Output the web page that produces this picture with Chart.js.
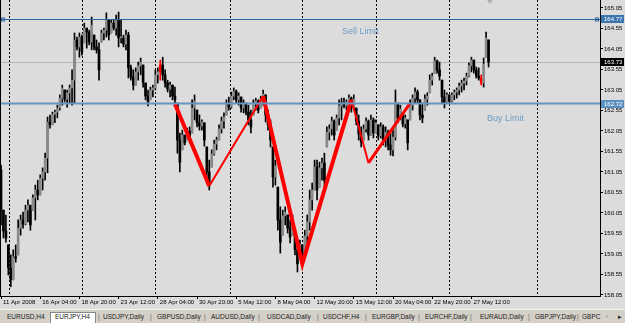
<!DOCTYPE html>
<html>
<head>
<meta charset="utf-8">
<script src="https://cdn.jsdelivr.net/npm/chart.js@4/dist/chart.umd.min.js"></script>
<style>
  html, body { margin: 0; padding: 0; background: #dcdcdc; overflow: hidden; }
  #chartBox { width: 625px; height: 309px; }
  #tabs { position: relative; width: 625px; height: 14px; background: #d4d0c8; border-top: 1px solid #f4f4f4; box-sizing: border-box;
          font: 6.5px "Liberation Sans", Arial, sans-serif; color: #222; }
  #tabs span { position: absolute; top: 3px; white-space: nowrap; }
  #tabs .active { top: 2px; height: 12px; background: #fff; border: 1px solid #888; border-bottom: none; box-sizing: border-box; }
  #tabs .sep { color: #666; }
</style>
</head>
<body>
<div id="chartBox"><canvas id="chart" width="625" height="309"></canvas></div>
<div id="tabs"></div>
<script>
// EURJPY H4 - bars
// =====================================================

const barHigh = [
  161.22,160.12,160.00,159.27,159.03,159.15,159.27,159.88,160.00,160.07,
  160.24,160.37,160.24,160.49,160.73,160.85,160.98,161.15,161.51,162.39,
  162.44,162.51,162.56,162.68,162.93,163.17,163.05,163.05,163.17,163.54,
  164.44,164.34,164.44,164.39,164.68,164.56,164.51,164.83,164.39,164.27,
  164.20,164.51,164.56,164.93,164.76,164.76,164.76,164.88,164.95,164.76,
  164.39,164.51,164.46,163.66,163.54,163.59,163.73,163.83,163.66,163.22,
  163.05,163.12,163.17,163.54,163.59,163.78,163.85,163.54,163.29,163.24,
  163.17,163.12,162.73,162.00,162.07,161.95,162.12,162.15,162.81,162.93,
  162.56,162.44,162.32,162.25,161.66,161.34,161.59,161.83,161.90,162.20,
  162.39,162.49,162.81,162.88,163.00,163.10,163.05,162.98,162.88,162.81,
  162.73,162.68,162.56,162.81,162.85,162.81,162.90,163.05,162.93,162.56,
  162.32,161.66,161.34,160.68,160.20,160.12,160.20,160.00,159.88,160.00,
  159.56,159.39,159.39,159.27,159.63,160.00,160.61,160.78,161.34,161.34,
  161.29,161.39,161.51,162.15,162.20,162.39,162.32,162.44,162.81,162.85,
  162.85,162.81,162.93,162.88,162.93,162.61,162.44,162.15,162.20,162.37,
  162.32,162.44,162.37,162.32,162.20,162.25,162.20,162.15,162.07,162.00,
  162.07,163.05,162.73,162.68,162.49,162.44,162.32,162.81,162.93,163.10,
  163.05,162.81,162.73,162.93,162.98,163.42,163.46,163.85,163.78,163.73,
  163.29,163.05,162.98,162.93,162.98,163.05,163.10,163.22,163.29,163.34,
  163.46,163.71,163.85,163.78,163.61,163.59,163.42,163.83,164.46,164.27
];

const barLow = [
  159.76,159.44,159.34,158.54,158.25,158.42,158.85,159.03,159.51,159.68,
  159.76,159.83,159.63,160.12,159.88,160.37,160.49,160.61,160.85,161.03,
  162.12,162.20,162.25,162.37,162.56,162.68,162.76,162.63,162.73,162.68,
  162.73,164.03,163.85,163.90,164.20,164.07,164.15,164.03,164.03,163.95,
  163.29,164.22,164.27,164.34,164.27,164.44,164.51,164.39,164.10,164.20,
  164.10,164.03,163.34,163.29,163.05,163.17,163.29,163.42,163.12,162.81,
  162.66,162.81,162.88,163.05,163.22,163.29,163.29,163.12,163.00,162.88,
  162.81,162.73,161.51,161.05,161.59,161.71,161.83,161.76,162.00,162.32,
  162.15,162.07,162.07,161.68,160.85,160.61,161.17,161.46,161.59,161.83,
  162.00,162.12,162.44,162.56,162.61,162.81,162.73,162.68,162.51,162.49,
  162.44,162.20,162.00,162.44,162.56,162.49,162.61,162.68,162.27,162.07,
  161.66,160.68,160.73,159.63,159.07,159.51,159.76,159.56,159.32,159.51,
  159.03,158.61,158.95,158.83,159.07,159.27,159.63,160.12,160.61,160.37,
  160.68,160.85,160.61,161.66,161.83,161.95,161.83,162.07,162.20,162.32,
  162.61,162.56,162.61,162.51,162.56,162.20,161.83,161.66,161.83,162.02,
  161.83,161.95,161.88,162.00,161.83,161.88,161.71,161.66,161.59,161.46,
  161.44,161.83,162.25,162.32,162.15,162.12,161.59,162.32,162.56,162.73,
  162.73,162.32,162.25,162.56,162.68,162.98,163.17,163.46,163.46,163.29,
  162.73,162.61,162.73,162.73,162.76,162.81,162.85,162.93,163.00,163.05,
  163.17,163.37,163.49,163.46,163.34,163.29,163.17,163.12,163.85,163.61
];

const barClose = [
  160.12,159.61,159.44,158.71,158.42,158.98,158.95,159.68,159.88,159.78,
  160.12,160.24,159.76,160.42,160.61,160.49,160.90,161.05,161.39,162.27,
  162.20,162.46,162.51,162.61,162.85,163.10,162.83,162.98,163.10,163.29,
  164.27,164.10,164.34,163.98,164.56,164.46,164.22,164.63,164.10,164.03,
  163.54,164.44,164.51,164.78,164.39,164.68,164.56,164.76,164.32,164.32,
  164.17,164.39,163.59,163.37,163.17,163.49,163.64,163.73,163.24,162.90,
  162.76,163.05,163.10,163.42,163.49,163.66,163.42,163.22,163.07,163.17,
  162.90,162.81,161.83,161.29,161.95,161.76,162.05,161.85,162.61,162.78,
  162.25,162.17,162.27,161.83,161.05,160.78,161.49,161.73,161.83,162.10,
  162.29,162.39,162.71,162.64,162.90,163.02,162.81,162.90,162.61,162.73,
  162.51,162.32,162.15,162.71,162.78,162.56,162.83,162.95,162.44,162.20,
  161.83,160.93,161.20,159.88,159.34,159.98,160.07,159.68,159.46,159.88,
  159.15,158.81,159.27,158.95,159.49,159.83,160.37,160.61,161.17,160.61,
  161.15,161.27,160.85,162.02,162.10,162.29,161.95,162.37,162.66,162.73,
  162.66,162.76,162.85,162.61,162.83,162.29,161.98,161.78,162.10,162.29,
  161.95,162.32,162.00,162.25,161.93,162.15,161.83,162.02,161.71,161.59,
  161.90,162.76,162.37,162.59,162.22,162.37,161.76,162.68,162.85,163.00,
  162.81,162.44,162.37,162.83,162.90,163.29,163.39,163.76,163.54,163.39,
  162.88,162.71,162.93,162.78,162.93,163.00,163.05,163.15,163.22,163.27,
  163.39,163.64,163.78,163.54,163.39,163.34,163.22,163.68,164.32,163.73
];
const firstOpen = 161.10;

// bars marked red on the chart
const redBars = [65, 196];

// ZigZag (bar index, price) and line width of each leg
const zigBars = [71, 85, 107, 123, 143, 150, 167];
const zigPrices = [162.71, 160.71, 162.90, 158.81, 162.81, 161.27, 162.73];
const zigWidths = [4, 2, 4, 4, 2, 3];

// Price axis and x axis
const yTicks = [165.05, 164.55, 164.05, 163.55, 163.05, 162.55, 162.05, 161.55,
                161.05, 160.55, 160.05, 159.55, 159.05, 158.55, 158.05];
const xTickBars = [0, 16, 32, 48, 64, 80, 96, 112, 128, 144, 160, 176, 192];
const xTickLabels = ['11 Apr 2008', '16 Apr 04:00', '18 Apr 20:00', '23 Apr 12:00', '28 Apr 04:00',
  '30 Apr 20:00', '5 May 12:00', '8 May 04:00', '12 May 20:00', '15 May 12:00',
  '20 May 04:00', '22 May 20:00', '27 May 12:00'];
const gridBars = [3.3, 33.2, 63, 93.5, 122.8, 153, 182.9, 218.8];

// Order levels
const sellLimit = 164.77;
const buyLimit = 162.72;
const bidPrice = 163.73;

const tabNames = ['EURUSD,H4', 'EURJPY,H4', 'USDJPY,Daily', 'GBPUSD,Daily', 'AUDUSD,Daily', 'USDCAD,Daily',
  'USDCHF,H4', 'EURGBP,Daily', 'EURCHF,Daily', 'EURAUD,Daily', 'GBPJPY,Daily', 'GBPC'];

// Build tab strip
const tabX = [7, 55, 103, 157, 211, 267, 323, 372, 425, 480, 535, 582];
const sepX = [98, 150, 204, 258, 317, 365, 418, 470, 528, 577];
const tabsEl = document.getElementById('tabs');
let tabHtml = '<span class="active" style="left:50px;width:46px;"></span>';
tabHtml += tabNames.map((t, i) => `<span style="left:${tabX[i]}px">${t}</span>`).join('');
tabHtml += sepX.map(x => `<span class="sep" style="left:${x}px">|</span>`).join('');
tabHtml += '<span style="left:606px;color:#888">&#8249;</span><span style="left:618px">&#9656;</span>';
tabsEl.innerHTML = tabHtml;

// Datasets
const opens = barClose.map((c, i) => i === 0 ? firstOpen : barClose[i - 1]);
const wicks = barHigh.map((h, i) => ({ x: i, y: [barLow[i], h] }));
const bodies = barClose.map((c, i) => {
  const o = Math.min(Math.max(opens[i], barLow[i]), barHigh[i]);
  return { x: i, y: [o, c] };
});
const bodyColors = barClose.map((c, i) => redBars.includes(i) ? '#ff0000' : (c >= opens[i] ? '#8a8a8a' : '#000000'));
const wickColors = barClose.map((c, i) => redBars.includes(i) ? '#ff0000' : '#000000');
const zigData = zigBars.map((b, i) => ({ x: b, y: zigPrices[i] }));

const FONT = '"Liberation Sans", Arial, sans-serif';

// no extra room for tick labels: plot area fills the frame
function noPadding(s) {
  s.paddingLeft = 0; s.paddingRight = 0; s.paddingTop = 0; s.paddingBottom = 0;
}

const overlay = {
  id: 'mtOverlay',
  beforeDatasetsDraw(chart) {
    const { ctx, chartArea: a, scales: { x, y } } = chart;
    ctx.save();
    // dotted period separators
    ctx.strokeStyle = '#000';
    ctx.lineWidth = 1;
    ctx.setLineDash([2, 2]);
    gridBars.forEach(b => {
      const px = Math.round(x.getPixelForValue(b)) + 0.5;
      ctx.beginPath(); ctx.moveTo(px, a.top); ctx.lineTo(px, a.bottom); ctx.stroke();
    });
    ctx.setLineDash([]);
    // bid line
    const by = Math.round(y.getPixelForValue(bidPrice)) + 0.5;
    ctx.strokeStyle = '#b4b4b4';
    ctx.beginPath(); ctx.moveTo(a.left, by); ctx.lineTo(a.right, by); ctx.stroke();
    ctx.restore();
  },
  afterDatasetsDraw(chart) {
    const { ctx, chartArea: a, scales: { x, y } } = chart;
    ctx.save();
    // sell limit
    const sy = Math.round(y.getPixelForValue(sellLimit)) + 0.5;
    ctx.strokeStyle = '#2a62a0';
    ctx.lineWidth = 1;
    ctx.beginPath(); ctx.moveTo(a.left, sy); ctx.lineTo(a.right, sy); ctx.stroke();
    ctx.strokeRect(1.5, sy - 1.5, 3, 3);
    ctx.strokeRect(a.right - 4.5, sy - 1.5, 3, 3);
    // buy limit
    const yb = y.getPixelForValue(buyLimit);
    ctx.strokeStyle = '#6593c2';
    ctx.lineWidth = 2;
    ctx.beginPath(); ctx.moveTo(a.left, yb); ctx.lineTo(a.right, yb); ctx.stroke();
    // descriptions
    ctx.fillStyle = '#6f9bc6';
    ctx.font = '9px ' + FONT;
    ctx.textBaseline = 'alphabetic';
    ctx.fillText('Sell Limit', 342, sy + 14);
    ctx.fillText('Buy Limit', 487, yb + 17);
    // chart shift marker
    ctx.fillStyle = '#b0b0b0';
    ctx.beginPath(); ctx.moveTo(487, 0); ctx.lineTo(493, 0); ctx.lineTo(490, 4); ctx.closePath(); ctx.fill();
    ctx.restore();
  },
  afterDraw(chart) {
    const { ctx, chartArea: a, scales: { y } } = chart;
    ctx.save();
    // frame on left
    ctx.strokeStyle = '#000';
    ctx.lineWidth = 1;
    ctx.beginPath(); ctx.moveTo(0.5, a.bottom); ctx.lineTo(0.5, a.top); ctx.stroke();
    // price boxes on the axis
    ctx.font = '6px ' + FONT;
    ctx.textBaseline = 'middle';
    [[sellLimit, '#3c75ad', '#fff'], [bidPrice, '#000', '#fff'], [buyLimit, '#5b8fc0', '#fff']].forEach(([p, bg, fg]) => {
      const py = Math.round(y.getPixelForValue(p));
      ctx.fillStyle = bg;
      ctx.fillRect(a.right + 1, py - 4, 23, 8);
      ctx.fillStyle = fg;
      ctx.fillText(p.toFixed(2), a.right + 4, py + 0.5);
    });
    ctx.restore();
  }
};

new Chart(document.getElementById('chart'), {
  type: 'bar',
  data: {
    datasets: [
      {
        type: 'line',
        data: zigData,
        borderColor: '#ff0000',
        borderWidth: 3,
        segment: { borderWidth: c => zigWidths[c.p0DataIndex] },
        pointRadius: 0,
        tension: 0,
        order: 0
      },
      {
        data: bodies,
        backgroundColor: bodyColors,
        barThickness: 2,
        minBarLength: 1,
        grouped: false,
        order: 1
      },
      {
        data: wicks,
        backgroundColor: wickColors,
        barThickness: 1,
        grouped: false,
        order: 2
      }
    ]
  },
  options: {
    responsive: false,
    animation: false,
    events: [],
    layout: { padding: 0 },
    plugins: { legend: { display: false }, tooltip: { enabled: false } },
    scales: {
      x: {
        type: 'linear',
        offset: false,
        min: -0.41,
        max: 244.49,
        afterBuildTicks: s => { s.ticks = xTickBars.map(v => ({ value: v })); },
        afterFit: s => { s.height = 13; noPadding(s); },
        grid: { display: true, offset: false, drawOnChartArea: false, drawTicks: true, tickLength: 3, color: '#000' },
        border: { display: true, color: '#000' },
        ticks: {
          autoSkip: false, maxRotation: 0, minRotation: 0,
          align: 'start', labelOffset: 2, padding: 0,
          color: '#000', font: { size: 6, family: FONT },
          callback: (v, i) => xTickLabels[i]
        }
      },
      y: {
        position: 'right',
        min: 158.025,
        max: 165.245,
        afterBuildTicks: s => { s.ticks = yTicks.map(v => ({ value: v })); },
        afterFit: s => { s.width = 25; noPadding(s); },
        grid: { display: true, drawOnChartArea: false, drawTicks: true, tickLength: 3, color: '#000' },
        border: { display: true, color: '#000' },
        ticks: {
          padding: 1,
          color: '#000', font: { size: 6, family: FONT },
          callback: v => v.toFixed(2)
        }
      }
    }
  },
  plugins: [overlay]
});
</script>
</body>
</html>
